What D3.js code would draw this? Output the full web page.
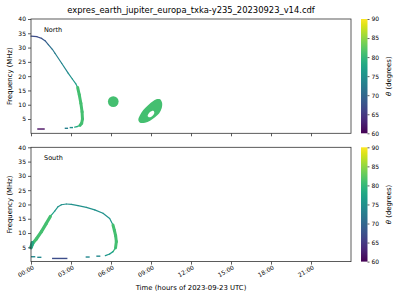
<!DOCTYPE html>
<html>
<head>
<meta charset="utf-8">
<script src="https://cdn.jsdelivr.net/npm/d3@7"></script>
<style>
body { margin: 0; background: #fff; }
svg text { font-family: "DejaVu Sans", sans-serif; fill: #000; }
.axis path.domain { display: none; }
.axis line { stroke: #333; stroke-width: 0.8; }
</style>
</head>
<body>
<div id="chart"></div>
<script>
const title = "expres_earth_jupiter_europa_txka-y235_20230923_v14.cdf";
const hourTicks = [0, 3, 6, 9, 12, 15, 18, 21];
const hourLabels = ["00:00", "03:00", "06:00", "09:00", "12:00", "15:00", "18:00", "21:00"];
const freqTicks = [5, 10, 15, 20, 25, 30, 35, 40];
const thetaTicks = [60, 65, 70, 75, 80, 85, 90];

//// tracks: [hour, MHz, theta]
const northArc = [
	[0.00, 34.0, 67], [0.45, 33.8, 67], [0.80, 33.2, 68], [1.05, 32.4, 69],
	[1.30, 31.0, 71], [1.60, 29.4, 72], [1.80, 28.0, 73], [2.30, 24.5, 74],
	[2.80, 21.0, 75], [3.10, 19.0, 76], [3.35, 17.4, 77], [3.50, 16.0, 79]
];
const northThick = [
	[3.50, 16.0, 81], [3.62, 13.5, 81], [3.74, 10.5, 81], [3.83, 7.5, 81],
	[3.86, 5.0, 81], [3.80, 3.5, 81], [3.68, 2.8, 80]
];
const northTail = [[3.68, 2.8, 80], [3.45, 2.35, 78], [3.28, 2.15, 77]];
//// short bursts: [hour start, hour end, MHz, theta]
const northBursts = [[2.53, 2.78, 1.75, 73], [2.90, 3.15, 2.0, 75], [0.47, 1.03, 1.5, 61]];
//// blob: centre and half spans [hour, MHz], theta
const blobCenter = [6.17, 11.1];
const blobSpan = [0.40, 1.9];
const blobTheta = 81;
//// ring outline and hole: [hour, MHz]
const ringOuter = [
	[8.05, 4.66], [8.18, 6.4], [8.42, 8.15], [8.80, 9.9], [9.17, 11.3], [9.47, 12.0],
	[9.68, 11.9], [9.83, 10.7], [9.80, 8.75], [9.62, 7.0], [9.30, 5.6], [8.93, 4.4],
	[8.55, 3.7], [8.18, 3.7]
];
const ringHole = [[8.75, 6.05], [8.93, 7.45], [9.17, 7.9], [9.25, 7.2], [9.10, 6.05], [8.87, 5.6]];
const ringTheta = 81;

const southThickA = [
	[0.02, 5.2, 80], [0.15, 6.5, 81], [0.40, 7.9, 81], [0.78, 10.5, 81],
	[1.15, 13.4, 81], [1.45, 15.8, 80]
];
const southBase = [[0.0, 4.9, 78], [0.1, 6.6, 78]];
const southArc = [
	[1.45, 15.8, 77], [1.78, 17.7, 76], [2.03, 19.2, 75], [2.28, 19.9, 75],
	[2.65, 20.15, 75], [3.03, 20.05, 75], [3.53, 19.6, 75], [4.15, 19.0, 75],
	[4.78, 18.1, 75], [5.40, 16.9, 75], [5.90, 15.1, 76], [6.15, 12.8, 78]
];
const southThickB = [[6.15, 12.8, 81], [6.25, 11.0, 81], [6.35, 9.0, 81], [6.40, 7.0, 81], [6.34, 4.8, 81]];
const southTail = [[6.34, 4.8, 80], [6.15, 3.5, 77], [5.90, 2.66, 76], [5.58, 2.07, 75]];
const southBursts = [
	[4.90, 5.20, 1.9, 74], [4.10, 4.40, 1.6, 74], [0.00, 0.32, 1.7, 74],
	[0.47, 0.78, 1.5, 74], [1.58, 2.73, 1.1, 67]
];

const W = 400, H = 300;
const svg = d3.select("#chart").append("svg").attr("width", W).attr("height", H);

const x = d3.scaleLinear().domain([0, 24]).range([31, 351]);
const color = d3.scaleSequential(d3.interpolateViridis).domain([60, 90]);

const panels = [
	{ name: "North", top: 19, bottom: 133.3 },
	{ name: "South", top: 147.3, bottom: 261.6 }
];

svg.append("text")
	.attr("x", 191).attr("y", 13)
	.attr("text-anchor", "middle")
	.attr("font-size", 8.4)
	.text(title);

//// viridis gradient for colorbars
const grad = svg.append("defs").append("linearGradient")
	.attr("id", "viridis").attr("x1", 0).attr("y1", 1).attr("x2", 0).attr("y2", 0);
d3.range(0, 1.0001, 0.05).forEach(t => {
	grad.append("stop").attr("offset", t).attr("stop-color", d3.interpolateViridis(t));
});

const drawTrack = (g, y, pts, w) => {
	for (let i = 0; i < pts.length - 1; i++) {
		g.append("line")
			.attr("x1", x(pts[i][0])).attr("y1", y(pts[i][1]))
			.attr("x2", x(pts[i + 1][0])).attr("y2", y(pts[i + 1][1]))
			.attr("stroke", color(pts[i][2]))
			.attr("stroke-width", w)
			.attr("stroke-linecap", "round");
	}
};

const drawBursts = (g, y, rows) => {
	rows.forEach(b => {
		g.append("line")
			.attr("x1", x(b[0])).attr("x2", x(b[1]))
			.attr("y1", y(b[2])).attr("y2", y(b[2]))
			.attr("stroke", color(b[3]))
			.attr("stroke-width", 1.4);
	});
};

panels.forEach((p, idx) => {
	const y = d3.scaleLinear().domain([0, 40]).range([p.bottom, p.top]);
	const g = svg.append("g");

	if (idx === 0) {
		drawTrack(g, y, northArc, 1.2);
		drawTrack(g, y, northThick, 3);
		drawTrack(g, y, northTail, 1.3);
		drawBursts(g, y, northBursts);
		g.append("ellipse")
			.attr("cx", x(blobCenter[0])).attr("cy", y(blobCenter[1]))
			.attr("rx", x(blobSpan[0]) - x(0)).attr("ry", y(0) - y(blobSpan[1]))
			.attr("fill", color(blobTheta));
		const closed = d3.line().x(d => x(d[0])).y(d => y(d[1])).curve(d3.curveCatmullRomClosed);
		g.append("path")
			.attr("d", closed(ringOuter) + closed(ringHole))
			.attr("fill-rule", "evenodd")
			.attr("fill", color(ringTheta));
	} else {
		drawTrack(g, y, southArc, 1.2);
		drawTrack(g, y, southThickA, 3.2);
		drawTrack(g, y, southBase, 3.5);
		drawTrack(g, y, southThickB, 3);
		drawTrack(g, y, southTail, 1.3);
		drawBursts(g, y, southBursts);
	}

	//// axes
	const ya = svg.append("g").attr("class", "axis")
		.attr("transform", `translate(${x(0)},0)`)
		.call(d3.axisLeft(y).tickValues(freqTicks).tickSize(3).tickPadding(2));
	ya.selectAll("text").attr("font-size", 6);

	const xa = svg.append("g").attr("class", "axis")
		.attr("transform", `translate(0,${p.bottom})`)
		.call(d3.axisBottom(x).tickValues(hourTicks).tickSize(3)
			.tickFormat((d, i) => idx === 1 ? hourLabels[i] : ""));
	xa.selectAll("text")
		.attr("font-size", 6)
		.attr("text-anchor", "end")
		.attr("dy", 0)
		.attr("transform", "translate(0,2) rotate(-30)");

	svg.append("rect")
		.attr("x", x(0)).attr("y", p.top)
		.attr("width", x(24) - x(0)).attr("height", p.bottom - p.top)
		.attr("fill", "none").attr("stroke", "#333").attr("stroke-width", 0.8);

	svg.append("text")
		.attr("x", 44).attr("y", p.top + 13)
		.attr("font-size", 6.5)
		.text(p.name);

	svg.append("text")
		.attr("transform", `translate(12,${(p.top + p.bottom) / 2}) rotate(-90)`)
		.attr("text-anchor", "middle")
		.attr("font-size", 6.9)
		.text("Frequency (MHz)");

	//// colorbar
	const cb = d3.scaleLinear().domain([60, 90]).range([p.bottom, p.top]);
	svg.append("rect")
		.attr("x", 361).attr("y", p.top)
		.attr("width", 6.5).attr("height", p.bottom - p.top)
		.attr("fill", "url(#viridis)");
	const ca = svg.append("g").attr("class", "axis")
		.attr("transform", "translate(367.5,0)")
		.call(d3.axisRight(cb).tickValues(thetaTicks).tickSize(2).tickPadding(2));
	ca.selectAll("text").attr("font-size", 6);

	const lab = svg.append("text")
		.attr("transform", `translate(391,${(p.top + p.bottom) / 2}) rotate(-90)`)
		.attr("text-anchor", "middle")
		.attr("font-size", 6.9);
	lab.append("tspan").attr("font-style", "italic").text("θ");
	lab.append("tspan").text(" (degrees)");
});

svg.append("text")
	.attr("x", 191).attr("y", 290)
	.attr("text-anchor", "middle")
	.attr("font-size", 6.9)
	.text("Time (hours of 2023-09-23 UTC)");
</script>
</body>
</html>
